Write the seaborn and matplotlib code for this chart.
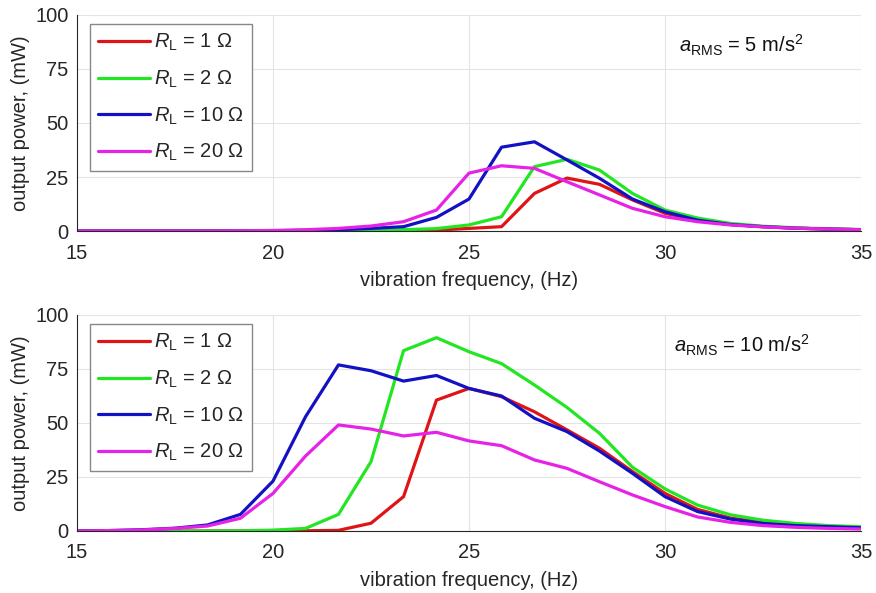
import numpy as np
import pandas as pd
import matplotlib
matplotlib.use("Agg")
import matplotlib.pyplot as plt
import seaborn as sns

freq = [15.0, 15.83, 16.67, 17.5, 18.33, 19.17, 20.0, 20.83, 21.67, 22.5, 23.33, 24.17,
        25.0, 25.83, 26.67, 27.5, 28.33, 29.17, 30.0, 30.83, 31.67, 32.5, 33.33, 34.17, 35.0]

loads = ["1", "2", "10", "20"]

# a_RMS = 5 m/s^2
p5_r1 = [0, 0, 0, 0, 0, 0, 0, 0, 0.05, 0.1, 0.2, 0.4, 1.2, 2.0, 17.4, 24.5, 21.6, 14.4, 8.2, 5.0, 3.0, 2.0, 1.3, 0.9, 0.6]
p5_r2 = [0, 0, 0, 0, 0, 0, 0, 0.05, 0.1, 0.3, 0.6, 1.1, 2.8, 6.6, 29.8, 33.2, 28.2, 17.4, 9.7, 6.0, 3.5, 2.2, 1.5, 1.0, 0.7]
p5_r10 = [0, 0, 0, 0, 0, 0.05, 0.15, 0.3, 0.6, 1.2, 2.0, 6.3, 14.8, 38.8, 41.3, 32.9, 24.4, 14.8, 8.9, 5.0, 3.0, 2.0, 1.3, 0.9, 0.6]
p5_r20 = [0, 0, 0, 0, 0, 0.1, 0.25, 0.6, 1.2, 2.3, 4.3, 9.7, 26.8, 30.2, 29.0, 22.8, 16.7, 10.5, 6.6, 4.3, 2.8, 1.9, 1.3, 0.9, 0.6]

# a_RMS = 10 m/s^2
p10_r1 = [0, 0, 0, 0, 0, 0, 0, 0.1, 0.3, 3.6, 15.9, 60.6, 66.0, 62.2, 55.2, 46.8, 38.3, 27.5, 17.4, 10.0, 6.0, 4.0, 2.8, 2.0, 1.5]
p10_r2 = [0, 0, 0, 0, 0, 0.1, 0.4, 1.2, 7.7, 32.1, 83.5, 89.5, 83.0, 77.5, 67.6, 57.2, 45.2, 29.5, 19.5, 12.0, 7.5, 5.0, 3.5, 2.5, 2.0]
p10_r10 = [0, 0.2, 0.6, 1.3, 2.8, 7.7, 23.1, 52.9, 76.9, 74.2, 69.4, 72.0, 66.0, 62.5, 52.2, 46.0, 37.0, 26.7, 15.9, 9.0, 5.5, 3.5, 2.5, 2.0, 1.5]
p10_r20 = [0, 0.2, 0.5, 1.2, 2.3, 5.9, 17.4, 34.7, 49.1, 47.2, 44.0, 45.7, 41.7, 39.5, 32.9, 29.0, 22.8, 16.7, 11.3, 6.5, 4.0, 2.5, 1.7, 1.2, 0.9]

a_labels = ["5", "10"]

colors = ["#e01414", "#22e622", "#1212c4", "#e622e6"]

def make_df(series):
    rows = []
    for load, vals in zip(loads, series):
        for f, v in zip(freq, vals):
            rows.append({"freq": f, "power": v, "load": load})
    return pd.DataFrame(rows)

sns.set_theme(style="whitegrid")
plt.rcParams["font.family"] = ["Liberation Sans", "DejaVu Sans"]
plt.rcParams["mathtext.fontset"] = "custom"
plt.rcParams["mathtext.rm"] = "Liberation Sans"
plt.rcParams["mathtext.it"] = "Liberation Sans:italic"

fig = plt.figure(figsize=(8.76, 5.93), dpi=100)
ax1 = fig.add_axes([77/876, 1-231/593, 784/876, 216/593])
ax2 = fig.add_axes([77/876, 1-531/593, 784/876, 216/593])

datasets = [[p5_r1, p5_r2, p5_r10, p5_r20], [p10_r1, p10_r2, p10_r10, p10_r20]]
fs = 14.5
ann_pos = [(0.768, 0.86), (0.762, 0.86)]
for ax, series, alab, apos in zip([ax1, ax2], datasets, a_labels, ann_pos):
    df = make_df(series)
    sns.lineplot(data=df, x="freq", y="power", hue="load", hue_order=loads,
                 palette=colors, linewidth=2.3, ax=ax, legend=False)
    ax.set_xlim(15, 35)
    ax.set_ylim(0, 100)
    ax.set_xticks([15, 20, 25, 30, 35])
    ax.set_yticks([0, 25, 50, 75, 100])
    ax.grid(True, color="#e4e4e4", linewidth=0.8)
    ax.set_facecolor("white")
    for s in ["top", "right"]:
        ax.spines[s].set_visible(False)
    for s in ["left", "bottom"]:
        ax.spines[s].set_color("#262626")
        ax.spines[s].set_linewidth(0.8)
    ax.tick_params(direction="in", length=4, width=0.8, color="#262626",
                   labelsize=fs, labelcolor="#262626")
    ax.tick_params(axis="x", pad=9)
    ax.tick_params(axis="y", pad=6)
    ax.set_xlabel("vibration frequency, (Hz)", fontsize=fs, color="#262626", labelpad=6)
    ax.set_ylabel("output power, (mW)", fontsize=fs, color="#262626", labelpad=4)
    handles = [plt.Line2D([], [], color=c, linewidth=2.3) for c in colors]
    labels = [r"$R_\mathrm{L}$ = %s Ω" % l for l in loads]
    leg = ax.legend(handles, labels, loc="upper left", bbox_to_anchor=(13/784, 1 - 9/216),
                    fontsize=fs, frameon=True, fancybox=False, framealpha=1,
                    edgecolor="#888888", handlelength=2.6, handletextpad=0.2,
                    borderpad=0.4, labelspacing=0.76, borderaxespad=0)
    leg.get_frame().set_linewidth(1.0)
    ax.text(apos[0], apos[1], r"$a_\mathrm{RMS}$ = %s m/s$^2$" % alab, transform=ax.transAxes,
            fontsize=fs, color="#111111", ha="left", va="center")

fig.savefig("out.png", dpi=100)
